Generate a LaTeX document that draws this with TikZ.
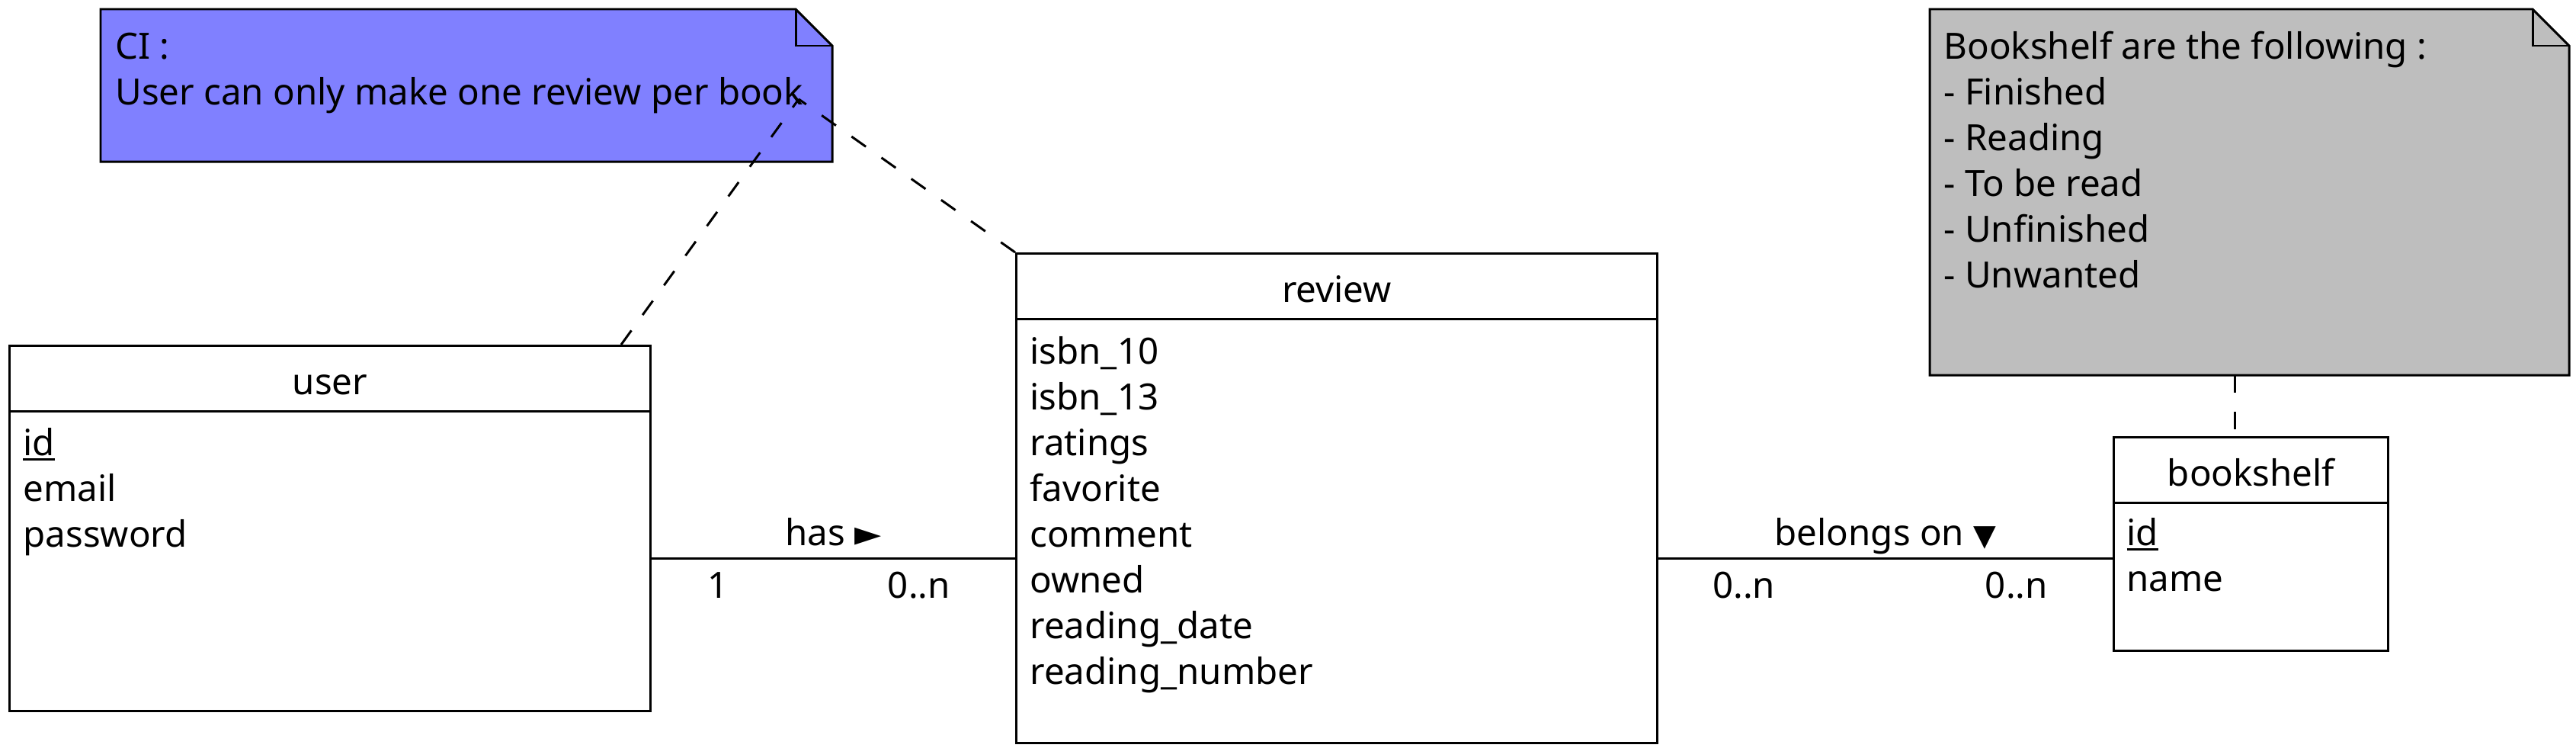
\documentclass[tikz,border=0pt]{standalone}
\usepackage{fontspec}
\setmainfont{Noto Sans}
\newfontfamily\symfont{DejaVu Sans}
\definecolor{noteblue}{RGB}{128,128,255}
\definecolor{notegray}{RGB}{190,190,190}
\newcommand\pkey[1]{\setbox0\hbox{#1}\rlap{\rule[-2.1pt]{\wd0}{0.85pt}}\box0}
\begin{document}
\begin{tikzpicture}[line join=miter,line width=0.85pt,font=\fontsize{13.5pt}{17pt}\selectfont]
	\tikzset{classbox/.style={draw,rectangle,inner sep=0pt,anchor=north west},
		txt/.style={inner sep=0pt,anchor=base west},
		ttl/.style={inner sep=0pt,anchor=base},
		link/.style={dash pattern=on 0.23cm off 0.25cm}}
	\useasboundingbox (0,0) rectangle (33.8,9.8);
	% notes
	\filldraw[fill=noteblue] (1.32,9.68)--(10.44,9.68)--(10.92,9.20)--(10.92,7.68)--(1.32,7.68)--cycle;
	\draw (10.44,9.68)--(10.44,9.20)--(10.92,9.20);
	\node[txt] (ci1) at (1.50,9.03) {CI :};
	\node[txt] (ci2) at (1.50,8.43) {User can only make one review per book};
	\coordinate (cinote) at (10.48,8.50);
	\filldraw[fill=notegray] (25.32,9.68)--(33.23,9.68)--(33.71,9.20)--(33.71,4.88)--(25.32,4.88)--cycle;
	\draw (33.23,9.68)--(33.23,9.20)--(33.71,9.20);
	\foreach \l [count=\i] in {Bookshelf are the following :,- Finished,- Reading,- To be read,- Unfinished,- Unwanted}
	\node[txt] (shelfnote-\i) at (25.49,{9.03-0.6*(\i-1)}) {\l};
	\coordinate (shelfnote) at (29.32,4.88);
	% classes
	\node[classbox,minimum width=8.41cm,minimum height=4.79cm] (user) at (0.11,5.28) {};
	\node[classbox,minimum width=8.41cm,minimum height=6.42cm] (review) at (13.32,6.49) {};
	\node[classbox,minimum width=3.60cm,minimum height=2.80cm] (shelf) at (27.72,4.08) {};
	\foreach \c/\t in {user/user,review/review,shelf/bookshelf}{
		\draw ([yshift=-0.87cm]\c.north west)--([yshift=-0.87cm]\c.north east);
		\node[ttl] (\c-title) at ([yshift=-0.655cm]\c.north) {\t};
	}
	\foreach \a [count=\i] in {\pkey{id},email,password}
	\node[txt] (user-\i) at ([shift={(0.18,{-1.45-0.6*(\i-1)})}]user.north west) {\a};
	\foreach \a [count=\i] in {isbn\_10,isbn\_13,ratings,favorite,comment,owned,reading\_date,reading\_number}
	\node[txt] (review-\i) at ([shift={(0.18,{-1.46-0.6*(\i-1)})}]review.north west) {\a};
	\foreach \a [count=\i] in {\pkey{id},name}
	\node[txt] (shelf-\i) at ([shift={(0.17,{-1.43-0.6*(\i-1)})}]shelf.north west) {\a};
	% relations
	\coordinate (rel) at (0,2.48);
	\draw (user.east |- rel)--(review.west |- rel)
		node[pos=0.5,anchor=base,yshift=0.17cm] (has) {has {\symfont\fontsize{13pt}{13pt}\selectfont ►}}
		node[pos=0,anchor=base west,xshift=0.60cm,yshift=-0.52cm] (has-m1) {1}
		node[pos=1,anchor=base east,xshift=-0.72cm,yshift=-0.52cm] (has-m2) {0..n};
	\draw (review.east |- rel)--(shelf.west |- rel)
		node[pos=0.5,anchor=base,yshift=0.17cm] (belongs) {belongs on {\symfont\fontsize{11pt}{11pt}\selectfont ▼}}
		node[pos=0,anchor=base west,xshift=0.58cm,yshift=-0.52cm] (belongs-m1) {0..n}
		node[pos=1,anchor=base east,xshift=-0.72cm,yshift=-0.52cm] (belongs-m2) {0..n};
	\draw[link] ([xshift=3.82cm]user.north)--(cinote);
	\draw[link] (review.north west)--(cinote);
	\draw[link] (shelfnote)--(shelf.north -| shelfnote);
\end{tikzpicture}
\end{document}
